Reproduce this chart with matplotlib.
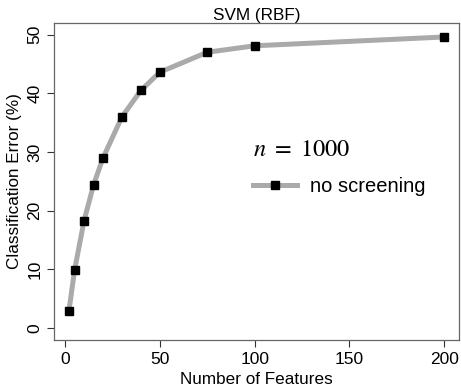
import matplotlib
matplotlib.use("Agg")
import matplotlib.pyplot as plt

plt.rcParams['font.family'] = ['Liberation Sans', 'DejaVu Sans']
plt.rcParams['mathtext.fontset'] = 'stix'

features = [2, 5, 10, 15, 20, 30, 40, 50, 75, 100, 200]
error = [2.9, 9.9, 18.3, 24.4, 29.0, 36.0, 40.5, 43.6, 47.0, 48.1, 49.6]
xticks = [0, 50, 100, 150, 200]
yticks = [0, 10, 20, 30, 40, 50]

fig = plt.figure(figsize=(4.61, 3.88), dpi=100)
ax = fig.add_axes([0.117, 0.124, 0.879, 0.817])

ax.plot(features, error, color='#aaaaaa', lw=3.6, marker='s', ms=5.5,
        mfc='black', mec='black', label='no screening')

ax.set_xlim(-5.9, 207.9)
ax.set_ylim(-2, 52)
ax.set_xticks(xticks)
ax.set_yticks(yticks)
ax.tick_params(colors='#333333', labelcolor='black', labelsize=12.5, length=5, width=0.8)
for lab in ax.get_yticklabels():
    lab.set_rotation(90)
    lab.set_va('center')
for s in ax.spines.values():
    s.set_color('#666666')
    s.set_linewidth(0.9)

ax.set_xlabel('Number of Features', fontsize=12.3)
ax.set_ylabel('Classification Error (%)', fontsize=12.3)
ax.set_title('SVM (RBF)', fontsize=12.3, pad=2)

ax.text(0.491, 0.599, r'$n\ =\ 1000$', transform=ax.transAxes, fontsize=17.5,
        va='center', ha='left')
ax.legend(loc='center left', bbox_to_anchor=(0.491, 0.483), frameon=False,
          fontsize=14.5, handlelength=2.2, handletextpad=0.65,
          borderpad=0, borderaxespad=0)

fig.savefig('out.png', dpi=100)
